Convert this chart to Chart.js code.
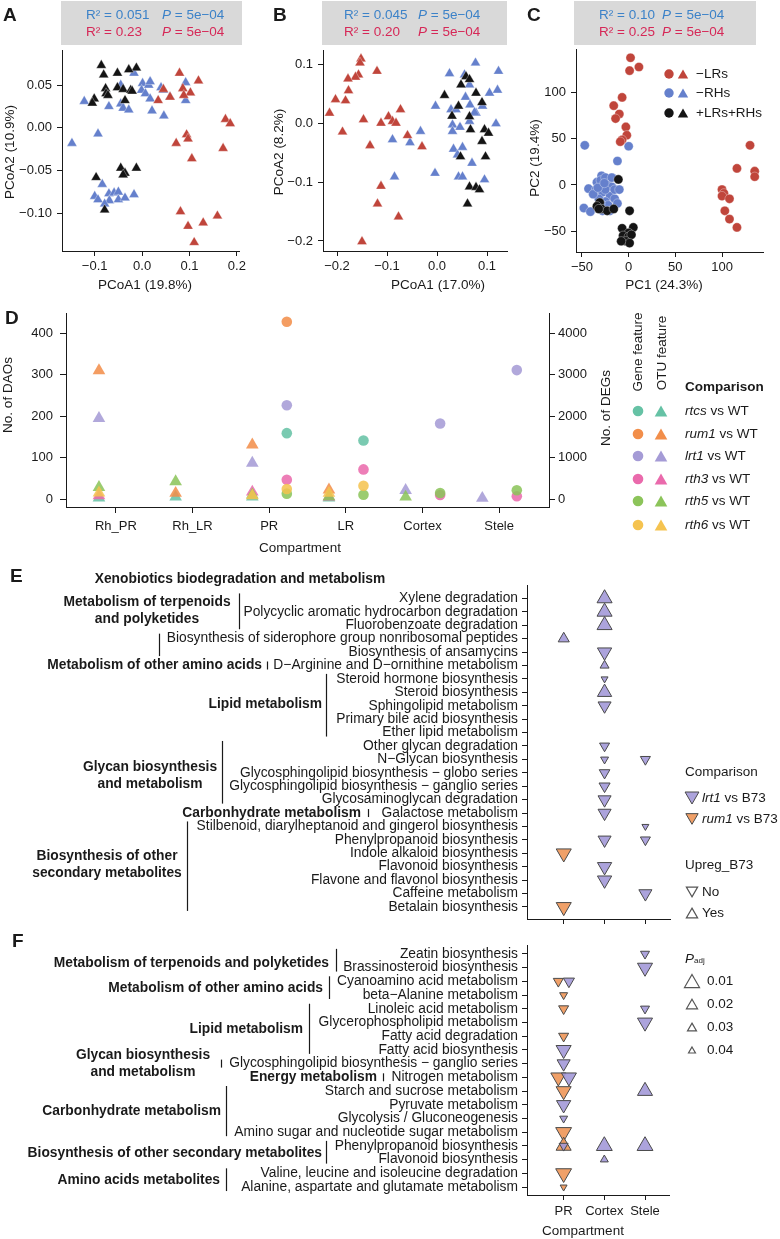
<!DOCTYPE html>
<html>
<head>
<meta charset="utf-8">
<title>Figure</title>
<script src="https://cdn.jsdelivr.net/npm/chart.js@4.4.1/dist/chart.umd.min.js"></script>
<style>
  html, body { margin: 0; padding: 0; background: #fff; }
  #fig { position: relative; width: 780px; height: 1239px; overflow: hidden;
         font-family: "Liberation Sans", Arial, sans-serif; color: #1a1a1a; }
  #fig canvas { position: absolute; }
  .t { position: absolute; white-space: nowrap; line-height: 1; }
  .box { position: absolute; background: #d9d9d9; }
</style>
</head>
<body>
<div id="fig">
  <div class="box" style="left:61px;top:1px;width:181px;height:44px"></div>
  <div class="box" style="left:322px;top:1px;width:185px;height:44px"></div>
  <div class="box" style="left:574px;top:1px;width:182px;height:44px"></div>
  <canvas id="chartA" width="250" height="300" style="left:0;top:0"></canvas>
  <canvas id="chartB" width="265" height="300" style="left:250px;top:0"></canvas>
  <canvas id="chartC" width="265" height="300" style="left:515px;top:0"></canvas>
  <canvas id="chartD" width="620" height="262" style="left:0;top:300px"></canvas>
  <canvas id="chartE" width="680" height="370" style="left:0;top:560px"></canvas>
  <canvas id="chartF" width="680" height="304" style="left:0;top:935px"></canvas>
  <svg id="marks" width="780" height="1239" style="position:absolute;left:0;top:0"></svg>
</div>
<script>
// ---------- A: PCoA of OTUs (triangles) ----------
const aLRsX = [0.079, 0.119, 0.086, 0.102, 0.088, 0.034, 0.059, 0.045, 0.176, 0.186, 0.072, 0.094, 0.097, 0.105, 0.171, 0.081, 0.097, 0.129, 0.159, 0.110];
const aLRsY = [0.064, 0.055, 0.046, 0.041, 0.038, 0.032, 0.036, 0.045, 0.010, 0.005, -0.018, -0.008, -0.013, -0.036, -0.024, -0.098, -0.115, -0.111, -0.103, -0.134];
const aRHsX = [-0.148, -0.093, -0.122, -0.070, -0.045, -0.045, -0.040, -0.028, -0.017, 0.001, -0.001, 0.007, 0.014, 0.017, 0.017, 0.021, 0.040, 0.045, 0.059, 0.046, 0.092, 0.092, -0.084, -0.100, -0.093, -0.070, -0.069, -0.059, -0.050, -0.050, -0.036, -0.017, -0.079];
const aRHsY = [-0.018, -0.007, 0.031, 0.025, 0.050, 0.028, 0.023, 0.021, 0.064, 0.052, 0.044, 0.040, 0.050, 0.054, 0.034, 0.020, 0.047, 0.044, 0.036, 0.014, 0.053, 0.032, -0.066, -0.080, -0.084, -0.077, -0.085, -0.076, -0.075, -0.084, -0.082, -0.078, -0.089];
const aWtX = [-0.086, -0.012, -0.028, -0.052, -0.081, -0.077, -0.052, -0.040, -0.024, -0.021, -0.076, -0.072, -0.101, -0.105, -0.036, -0.045, -0.036, -0.012, -0.097, -0.040, -0.079];
const aWtY = [0.073, 0.070, 0.068, 0.064, 0.062, 0.046, 0.047, 0.045, 0.044, 0.043, 0.040, 0.038, 0.034, 0.029, 0.032, -0.047, -0.053, -0.047, -0.058, -0.055, -0.096];
const aXTicks = [-0.1, 0, 0.1, 0.2];
const aXLabels = ['−0.1', '0.0', '0.1', '0.2'];
const aYTicks = [-0.10, -0.05, 0, 0.05];
const aYLabels = ['−0.10', '−0.05', '0.00', '0.05'];

// ---------- B: PCoA of OTUs ----------
const bLRsX = [-0.152, -0.154, -0.157, -0.163, -0.178, -0.177, -0.183, -0.203, -0.120, -0.215, -0.189, -0.147, -0.112, -0.097, -0.089, -0.082, -0.073, -0.059, -0.030, -0.134, -0.112, -0.119, -0.077, -0.150];
const bLRsY = [0.109, 0.102, 0.082, 0.078, 0.075, 0.055, 0.038, 0.040, 0.088, 0.017, -0.015, 0.006, 0.000, 0.011, 0.003, 0.000, 0.023, -0.021, -0.040, -0.038, -0.107, -0.137, -0.159, -0.201];
const bRHsX = [-0.089, -0.054, -0.033, -0.085, -0.003, -0.004, 0.025, 0.055, 0.077, 0.123, 0.121, 0.105, 0.028, 0.038, 0.031, 0.031, 0.046, 0.065, 0.057, 0.065, 0.066, 0.078, 0.091, 0.118, 0.033, 0.041, 0.051, 0.043, 0.051, 0.070, 0.095, 0.075];
const bRHsY = [-0.028, -0.033, -0.014, -0.091, 0.029, -0.085, 0.084, 0.082, 0.102, 0.088, 0.056, 0.051, 0.023, 0.023, -0.003, -0.014, -0.007, 0.003, 0.044, 0.065, 0.031, 0.017, 0.029, -0.001, -0.044, -0.054, -0.041, -0.091, -0.091, -0.068, -0.096, 0.018];
const bWtX = [0.058, 0.065, 0.048, 0.078, 0.015, 0.090, 0.043, 0.030, 0.065, 0.067, 0.095, 0.103, 0.090, 0.047, 0.097, 0.065, 0.078, 0.085, 0.061];
const bWtY = [0.079, 0.074, 0.065, 0.051, 0.047, 0.035, 0.029, 0.012, 0.011, -0.011, -0.011, -0.017, -0.031, -0.057, -0.057, -0.108, -0.109, -0.113, -0.137];
const bTicks = [-0.2, -0.1, 0, 0.1];
const bLabels = ['−0.2', '−0.1', '0.0', '0.1'];

// ---------- C: PCA of genes (circles) ----------
const cLRsX = [2, 1, 11, -7, -16, -10, -14, -3, -2, -7, -9, 130, 116, 135, 135, 100, 102, 100, 108, 103, 108, 116];
const cLRsY = [138, 124, 128, 95, 86, 77, 72, 63, 54, 49, 47, 43, 18, 15, 9, -5, -9, -12, -15, -28, -37, -46];
const cRHsX = [-47, 0, -12, -29, -43, -48, -41, -34, -35, -30, -25, -22, -28, -20, -18, -15, -25, -32, -22, -12, -28, -20, -38, -18, -25, -15, -30, -10, -33, -26];
const cRHsY = [43, 42, 26, 10, -4, -25, -29, 3, -5, 5, 8, 0, -8, -12, -2, -15, -18, -15, -22, -20, -28, -28, -10, 8, -5, -5, -20, -5, -3, 2];
const cWtX = [-11, -31, -34, -29, -23, -16, -32, 1, -7, 5, 0, -6, 0, 3, -3, 1, -8];
const cWtY = [6, -19, -23, -26, -28, -26, -26, -28, -47, -46, -52, -55, -56, -54, -61, -63, -61];
const cTicks = [-50, 0, 50, 100];
const cLabels = ['−50', '0', '50', '100'];

// ---------- D: number of DAOs (triangles, left) and DEGs (circles, right) ----------
const dCompartments = ['Rh_PR', 'Rh_LR', 'PR', 'LR', 'Cortex', 'Stele'];
const dComparisons = ['rtcs', 'rum1', 'lrt1', 'rth3', 'rth5', 'rth6'];
const daoRtcs = [3, 5, 5, 3, null, null];
const daoRum1 = [310, 14, 131, 22, null, null];
const daoLrt1 = [195, null, 87, null, 21, 2];
const daoRth3 = [8, null, 17, 5, null, null];
const daoRth5 = [28, 42, 10, 6, 5, null];
const daoRth6 = [15, null, 8, 14, null, null];
const degRtcs = [null, null, 1590, 1414, null, null];
const degRum1 = [null, null, 4281, null, null, null];
const degLrt1 = [null, null, 2265, null, 1823, 3113];
const degRth3 = [null, null, 466, 715, 97, 65];
const degRth5 = [null, null, 129, 104, 145, 210];
const degRth6 = [null, null, 241, 321, null, null];
const dDaoTicks = [0, 100, 200, 300, 400];
const dDegTicks = [0, 1000, 2000, 3000, 4000];

// ---------- E: KEGG pathways, lrt1 / rum1 vs B73 ----------
const eRows = ['Xylene degradation', 'Polycyclic aromatic hydrocarbon degradation', 'Fluorobenzoate degradation',
  'Biosynthesis of siderophore group nonribosomal peptides', 'Biosynthesis of ansamycins', 'D−Arginine and D−ornithine metabolism',
  'Steroid hormone biosynthesis', 'Steroid biosynthesis', 'Sphingolipid metabolism', 'Primary bile acid biosynthesis',
  'Ether lipid metabolism', 'Other glycan degradation', 'N−Glycan biosynthesis', 'Glycosphingolipid biosynthesis − globo series',
  'Glycosphingolipid biosynthesis − ganglio series', 'Glycosaminoglycan degradation', 'Galactose metabolism',
  'Stilbenoid, diarylheptanoid and gingerol biosynthesis', 'Phenylpropanoid biosynthesis', 'Indole alkaloid biosynthesis',
  'Flavonoid biosynthesis', 'Flavone and flavonol biosynthesis', 'Caffeine metabolism', 'Betalain biosynthesis'];
const ePtRow  = [1, 2, 3, 4, 5, 6, 7, 8, 9, 12, 13, 13, 14, 15, 16, 17, 18, 19, 19, 20, 21, 22, 23, 24];
const ePtComp = [2, 2, 2, 1, 2, 2, 2, 2, 2, 2, 2, 3, 2, 2, 2, 2, 3, 2, 3, 1, 2, 2, 3, 1];
const ePtWho  = ['lrt1', 'lrt1', 'lrt1', 'lrt1', 'lrt1', 'lrt1', 'lrt1', 'lrt1', 'lrt1', 'lrt1', 'lrt1', 'lrt1',
  'lrt1', 'lrt1', 'lrt1', 'lrt1', 'lrt1', 'lrt1', 'lrt1', 'rum1', 'lrt1', 'lrt1', 'lrt1', 'rum1'];
const ePtUp   = [1, 1, 1, 1, 0, 1, 0, 1, 0, 0, 0, 0, 0, 0, 0, 0, 0, 0, 0, 0, 0, 0, 0, 0];
const ePtPadj = [0.01, 0.01, 0.01, 0.02, 0.012, 0.03, 0.04, 0.012, 0.015, 0.025, 0.035, 0.025,
  0.022, 0.02, 0.015, 0.015, 0.04, 0.015, 0.025, 0.01, 0.012, 0.012, 0.015, 0.01];
const eGroupNames = [['Xenobiotics biodegradation and metabolism'], ['Metabolism of terpenoids', 'and polyketides'], [],
  ['Metabolism of other amino acids'], ['Lipid metabolism'], ['Glycan biosynthesis', 'and metabolism'],
  ['Carbonhydrate metabolism'], ['Biosynthesis of other', 'secondary metabolites']];
const eGroupFirst = [1, 1, 4, 6, 7, 12, 17, 18];
const eGroupLast  = [3, 3, 5, 6, 11, 16, 17, 24];

// ---------- F: KEGG pathways ----------
const fRows = ['Zeatin biosynthesis', 'Brassinosteroid biosynthesis', 'Cyanoamino acid metabolism', 'beta−Alanine metabolism',
  'Linoleic acid metabolism', 'Glycerophospholipid metabolism', 'Fatty acid degradation', 'Fatty acid biosynthesis',
  'Glycosphingolipid biosynthesis − ganglio series', 'Nitrogen metabolism', 'Starch and sucrose metabolism',
  'Pyruvate metabolism', 'Glycolysis / Gluconeogenesis', 'Amino sugar and nucleotide sugar metabolism',
  'Phenylpropanoid biosynthesis', 'Flavonoid biosynthesis', 'Valine, leucine and isoleucine degradation',
  'Alanine, aspartate and glutamate metabolism'];
const fPtRow  = [1, 2, 3, 3, 4, 5, 5, 6, 7, 8, 9, 10, 10, 11, 11, 12, 13, 14, 15, 15, 15, 15, 16, 17, 18];
const fPtComp = [3, 3, 1, 1, 1, 1, 3, 3, 1, 1, 1, 1, 1, 1, 3, 1, 1, 1, 1, 1, 2, 3, 2, 1, 1];
const fPtWho  = ['lrt1', 'lrt1', 'rum1', 'lrt1', 'rum1', 'rum1', 'lrt1', 'lrt1', 'rum1', 'lrt1', 'lrt1', 'rum1', 'lrt1',
  'rum1', 'lrt1', 'lrt1', 'lrt1', 'rum1', 'rum1', 'lrt1', 'lrt1', 'lrt1', 'lrt1', 'rum1', 'rum1'];
const fPtUp   = [0, 0, 0, 0, 0, 0, 0, 0, 0, 0, 0, 0, 0, 0, 1, 0, 0, 0, 1, 0, 1, 1, 1, 0, 0];
const fPtPadj = [0.03, 0.01, 0.025, 0.02, 0.035, 0.025, 0.03, 0.01, 0.025, 0.01, 0.015, 0.01, 0.01,
  0.01, 0.01, 0.012, 0.035, 0.008, 0.01, 0.03, 0.008, 0.008, 0.035, 0.008, 0.04];
const fGroupNames = [['Metabolism of terpenoids and polyketides'], ['Metabolism of other amino acids'], ['Lipid metabolism'],
  ['Glycan biosynthesis', 'and metabolism'], ['Energy metabolism'], ['Carbonhydrate metabolism'],
  ['Biosynthesis of other secondary metabolites'], ['Amino acids metabolites']];
const fGroupFirst = [1, 3, 5, 9, 10, 11, 15, 17];
const fGroupLast  = [2, 4, 8, 9, 10, 14, 16, 18];
const compNames = ['PR', 'Cortex', 'Stele'];
const padjBreaks = [0.01, 0.02, 0.03, 0.04];

// ---------------- drawing ----------------
const FONT = '"Liberation Sans", Arial, sans-serif';
const INK = '#1a1a1a';
Chart.defaults.font.family = FONT;
Chart.defaults.font.size = 13;
Chart.defaults.color = INK;

const colRed = '#c0453b', colBlue = '#6580cc', colBlack = '#141414';
const txtBlue = '#3c82c8', txtRed = '#d62857';
const dColors = ['#66c2a5', '#f28e4a', '#a59bd6', '#ea6aac', '#8cc45a', '#f5c350'];
const colLrt1 = 'rgba(163,153,216,0.9)', colRum1 = 'rgba(238,150,88,0.9)', edge = '#4a4a4a';
const padjRadius = [8.7, 6.4, 5.2, 4.0];
const rowFont = 13.8;

function radiusFor(p) {
  if (p <= padjBreaks[0]) return padjRadius[0] + (padjBreaks[0] - p) * 230;
  for (let i = 1; i < padjBreaks.length; i++) {
    if (p <= padjBreaks[i]) {
      const t = (p - padjBreaks[i - 1]) / (padjBreaks[i] - padjBreaks[i - 1]);
      return padjRadius[i - 1] + t * (padjRadius[i] - padjRadius[i - 1]);
    }
  }
  return padjRadius[padjRadius.length - 1];
}

function axis(pos, min, max, ticks, labels, size, o) {
  o = o || {};
  return {
    type: 'linear', position: pos, min: min, max: max, reverse: !!o.reverse,
    afterBuildTicks: s => { s.ticks = ticks.map(v => ({ value: v })); },
    afterFit: s => { if (pos === 'left' || pos === 'right') s.width = size; else s.height = size; },
    ticks: { display: labels !== null, autoSkip: false, maxRotation: 0, padding: o.pad || 4, color: INK,
      font: { size: o.font || 13, lineHeight: 1 }, callback: (v, i) => labels ? labels[i] : '' },
    grid: { drawOnChartArea: false, drawTicks: true, tickLength: o.tl || 5, color: INK, tickWidth: 1 },
    border: { display: true, color: INK, width: 1 },
    title: { display: false }
  };
}

function baseOptions(pad, scales) {
  return {
    responsive: false, animation: false, devicePixelRatio: 1,
    layout: { padding: pad },
    plugins: { legend: { display: false }, tooltip: { enabled: false } },
    scales: scales
  };
}

function ordSet(xs, ys, color, shape, r) {
  return { data: xs.map((x, i) => ({ x: x, y: ys[i] })), pointStyle: shape, pointRadius: r,
    backgroundColor: color, borderColor: 'rgba(255,255,255,0.55)', borderWidth: 0.6, clip: false };
}

new Chart(document.getElementById('chartA'), {
  type: 'scatter',
  data: { datasets: [ordSet(aWtX, aWtY, colBlack, 'triangle', 5.8), ordSet(aLRsX, aLRsY, colRed, 'triangle', 5.8),
    ordSet(aRHsX, aRHsY, colBlue, 'triangle', 5.8)] },
  options: baseOptions({ top: 50, right: 8, bottom: 0, left: 0 }, {
    x: axis('bottom', -0.169, 0.206, aXTicks, aXLabels, 49),
    y: axis('left', -0.144, 0.091, aYTicks, aYLabels, 62, { pad: 5 })
  })
});

new Chart(document.getElementById('chartB'), {
  type: 'scatter',
  data: { datasets: [ordSet(bWtX, bWtY, colBlack, 'triangle', 5.8), ordSet(bLRsX, bLRsY, colRed, 'triangle', 5.8),
    ordSet(bRHsX, bRHsY, colBlue, 'triangle', 5.8)] },
  options: baseOptions({ top: 50, right: 8, bottom: 0, left: 0 }, {
    x: axis('bottom', -0.228, 0.14, bTicks, bLabels, 49),
    y: axis('left', -0.217, 0.124, bTicks, bLabels, 73, { pad: 5 })
  })
});

new Chart(document.getElementById('chartC'), {
  type: 'scatter',
  data: { datasets: [ordSet(cWtX, cWtY, colBlack, 'circle', 4.6), ordSet(cLRsX, cLRsY, colRed, 'circle', 4.6),
    ordSet(cRHsX, cRHsY, colBlue, 'circle', 4.6)] },
  options: baseOptions({ top: 49, right: 17, bottom: 0, left: 0 }, {
    x: axis('bottom', -56.4, 143.9, cTicks, cLabels, 48),
    y: axis('left', -72.7, 147.5, cTicks, cLabels, 61, { pad: 5 })
  })
});

// D
const daoSeries = [daoRtcs, daoRum1, daoLrt1, daoRth3, daoRth5, daoRth6];
const degSeries = [degRtcs, degRum1, degLrt1, degRth3, degRth5, degRth6];
const dSets = [];
dComparisons.forEach((c, k) => {
  const tri = [], dot = [];
  daoSeries[k].forEach((v, i) => { if (v !== null) tri.push({ x: i + 1 - 0.22, y: v }); });
  degSeries[k].forEach((v, i) => { if (v !== null) dot.push({ x: i + 1 + 0.23, y: v }); });
  dSets.push({ data: tri, yAxisID: 'y', pointStyle: 'triangle', pointRadius: 7.3, backgroundColor: dColors[k] + 'dd',
    borderWidth: 0, clip: false });
  dSets.push({ data: dot, yAxisID: 'y2', pointStyle: 'circle', pointRadius: 5.3, backgroundColor: dColors[k] + 'dd',
    borderWidth: 0, clip: false });
});
dSets.reverse();
new Chart(document.getElementById('chartD'), {
  type: 'scatter',
  data: { datasets: dSets },
  options: baseOptions({ top: 13, right: 0, bottom: 0, left: 0 }, {
    x: axis('bottom', 0.35, 6.65, [1, 2, 3, 4, 5, 6], dCompartments, 55, { tl: 6, pad: 7 }),
    y: axis('left', -19.3, 448, dDaoTicks, dDaoTicks.map(String), 66, { tl: 6, pad: 7 }),
    y2: axis('right', -193, 4480, dDegTicks, dDegTicks.map(String), 71, { tl: 6, pad: 3 })
  })
});

// E / F
function pathwaySets(rows, comps, who, up, padj) {
  return ['lrt1', 'rum1'].map(name => {
    const pts = [];
    rows.forEach((r, i) => {
      if (who[i] !== name) return;
      const twin = rows.some((r2, j) => j !== i && r2 === r && comps[j] === comps[i] && up[j] === up[i] && who[j] !== name);
      const dx = twin ? (name === 'rum1' ? -0.13 : 0.13) : 0;
      pts.push({ x: comps[i] + dx, y: r, up: up[i], p: padj[i] });
    });
    return { data: pts, pointStyle: 'triangle', clip: false,
      pointRadius: c => c.raw ? radiusFor(c.raw.p) : 5,
      pointRotation: c => (c.raw && c.raw.up) ? 0 : 180,
      backgroundColor: name === 'lrt1' ? colLrt1 : colRum1, borderColor: edge, borderWidth: 1 };
  });
}

function groupPlugin(names, first, last, anchorX, align, barX, dy) {
  return {
    id: 'groups',
    afterDraw(chart) {
      const ctx = chart.ctx, ys = chart.scales.y;
      ctx.save();
      ctx.font = 'bold ' + rowFont + 'px ' + FONT;
      ctx.fillStyle = INK; ctx.strokeStyle = INK; ctx.lineWidth = 1.2;
      ctx.textBaseline = 'middle';
      names.forEach((lines, g) => {
        const y0 = ys.getPixelForValue(first[g]), y1 = ys.getPixelForValue(last[g]);
        const mid = (y0 + y1) / 2 + dy[g];
        ctx.textAlign = align[g];
        lines.forEach((s, k) => ctx.fillText(s, anchorX[g], mid + (k - (lines.length - 1) / 2) * 16.8));
        if (barX[g] !== null) {
          const single = first[g] === last[g];
          ctx.beginPath();
          ctx.moveTo(barX[g] + 0.5, single ? y0 - 4 : y0 - 5);
          ctx.lineTo(barX[g] + 0.5, single ? y1 + 4 : y1 + 4);
          ctx.stroke();
        }
      });
      ctx.restore();
    }
  };
}

new Chart(document.getElementById('chartE'), {
  type: 'scatter',
  data: { datasets: pathwaySets(ePtRow, ePtComp, ePtWho, ePtUp, ePtPadj) },
  options: baseOptions({ top: 25, right: 9, bottom: 0, left: 0 }, {
    x: axis('bottom', 0.1, 3.61, [1, 2, 3], null, 11),
    y: axis('left', 0, 24.9, eRows.map((s, i) => i + 1), eRows, 527, { reverse: true, font: rowFont })
  }),
  plugins: [groupPlugin(eGroupNames, eGroupFirst, eGroupLast,
    [240, 147, 0, 262, 322, 150, 361, 107],
    ['center', 'center', 'left', 'right', 'right', 'center', 'right', 'center'],
    [null, 239, 159, 267, 326, 222, 368, 187],
    [-33, -1.5, 0, 0, -2, 3, 0, -2])]
});

new Chart(document.getElementById('chartF'), {
  type: 'scatter',
  data: { datasets: pathwaySets(fPtRow, fPtComp, fPtWho, fPtUp, fPtPadj) },
  options: baseOptions({ top: 10, right: 9, bottom: 0, left: 0 }, {
    x: axis('bottom', 0.1, 3.61, [1, 2, 3], compNames, 44, { pad: 5 }),
    y: axis('left', 0.42, 18.58, fRows.map((s, i) => i + 1), fRows, 527, { reverse: true, font: rowFont })
  }),
  plugins: [groupPlugin(fGroupNames, fGroupFirst, fGroupLast,
    [329, 323, 303, 143, 377, 221, 322, 220],
    ['right', 'right', 'right', 'center', 'right', 'right', 'right', 'right'],
    [336, 329, 309, 221, 383, 226, 326, 226],
    [2, 0, 0, 0, 0, 0, 0, 0])]
});

// ---------------- text and legends ----------------
const fig = document.getElementById('fig');
function txt(x, cy, html, o) {
  o = o || {};
  const fs = o.size || 13.5;
  const d = document.createElement('div');
  d.className = 't';
  d.innerHTML = html;
  d.style.fontSize = fs + 'px';
  d.style.top = (cy - fs / 2) + 'px';
  if (o.bold) d.style.fontWeight = 'bold';
  if (o.color) d.style.color = o.color;
  if (o.rotate) {
    d.style.left = x + 'px'; d.style.top = cy + 'px';
    d.style.transform = 'translate(-50%,-50%) rotate(-90deg)';
  } else if (o.align === 'center') {
    d.style.left = x + 'px'; d.style.transform = 'translateX(-50%)';
  } else {
    d.style.left = x + 'px';
  }
  fig.appendChild(d);
}
const svg = document.getElementById('marks');
const NS = 'http://www.w3.org/2000/svg';
function tri(cx, cy, r, up, fill, stroke, sw) {
  const s = up ? 1 : -1;
  const p = [[cx, cy - s * r], [cx + 0.866 * r, cy + s * 0.5 * r], [cx - 0.866 * r, cy + s * 0.5 * r]];
  const el = document.createElementNS(NS, 'polygon');
  el.setAttribute('points', p.map(q => q.join(',')).join(' '));
  el.setAttribute('fill', fill);
  el.setAttribute('stroke', stroke || 'none');
  el.setAttribute('stroke-width', sw || 0);
  svg.appendChild(el);
}
function dot(cx, cy, r, fill) {
  const el = document.createElementNS(NS, 'circle');
  el.setAttribute('cx', cx); el.setAttribute('cy', cy); el.setAttribute('r', r);
  el.setAttribute('fill', fill);
  svg.appendChild(el);
}

// panel letters
[['A', 3, 14], ['B', 273, 14], ['C', 527, 14], ['D', 5, 317], ['E', 10, 575], ['F', 12, 940]]
  .forEach(l => txt(l[1], l[2], l[0], { size: 19, bold: true }));

// statistics boxes
const statR1 = ['0.051', '0.045', '0.10'], statR2 = ['0.23', '0.20', '0.25'];
const statXR = [86, 344, 599], statXP = [162, 418, 662];
for (let i = 0; i < 3; i++) {
  txt(statXR[i], 15, 'R² = ' + statR1[i], { color: txtBlue });
  txt(statXP[i], 15, '<i>P</i> = 5e−04', { color: txtBlue });
  txt(statXR[i], 32, 'R² = ' + statR2[i], { color: txtRed });
  txt(statXP[i], 32, '<i>P</i> = 5e−04', { color: txtRed });
}

// axis titles
txt(145, 285, 'PCoA1 (19.8%)', { align: 'center' });
txt(10, 152, 'PCoA2 (10.9%)', { rotate: true });
txt(438, 285, 'PCoA1 (17.0%)', { align: 'center' });
txt(279, 152, 'PCoA2 (8.2%)', { rotate: true });
txt(664, 285, 'PC1 (24.3%)', { align: 'center' });
txt(535, 158, 'PC2 (19.4%)', { rotate: true });
txt(300, 548, 'Compartment', { align: 'center' });
txt(8, 395, 'No. of DAOs', { rotate: true });
txt(606, 408, 'No. of DEGs', { rotate: true });
txt(583, 1231, 'Compartment', { align: 'center' });

// C legend
const cLegNames = ['−LRs', '−RHs', '+LRs+RHs'], cLegCols = [colRed, colBlue, colBlack], cLegY = [74, 93, 113];
cLegNames.forEach((s, i) => {
  dot(669, cLegY[i], 4.7, cLegCols[i]);
  tri(683, cLegY[i] + 1.5, 6, true, cLegCols[i]);
  txt(696, cLegY[i], s);
});

// D legend
txt(638, 352, 'Gene feature', { rotate: true });
txt(662, 353, 'OTU feature', { rotate: true });
txt(685, 387, 'Comparison', { bold: true });
const dLegY = [411, 434, 456, 479, 501, 525];
dComparisons.forEach((c, i) => {
  dot(638, dLegY[i], 5.3, dColors[i]);
  tri(661, dLegY[i] + 1.8, 7.3, true, dColors[i]);
  txt(685, dLegY[i], '<i>' + c + '</i> vs WT');
});

// E legend
txt(685, 772, 'Comparison');
tri(692, 798 - 2, 8, false, colLrt1, edge, 1);
txt(702, 798, '<i>lrt1</i> vs B73');
tri(692, 819 - 1.8, 7.1, false, colRum1, edge, 1);
txt(702, 819, '<i>rum1</i> vs B73');
txt(685, 865, 'Upreg_B73');
tri(692, 892 - 1.6, 6.5, false, 'none', '#555', 1.2);
txt(702, 892, 'No');
tri(692, 913 + 1.6, 6.5, true, 'none', '#555', 1.2);
txt(702, 913, 'Yes');

// F legend
txt(685, 959, '<i>P</i><span style="font-size:8px">adj</span>');
const fLegY = [981, 1004, 1027, 1050];
padjBreaks.forEach((p, i) => {
  const r = radiusFor(p);
  tri(692, fLegY[i] + r / 4, r, true, 'none', '#555', 1.2);
  txt(707, fLegY[i], p.toFixed(2));
});
</script>
</body>
</html>
